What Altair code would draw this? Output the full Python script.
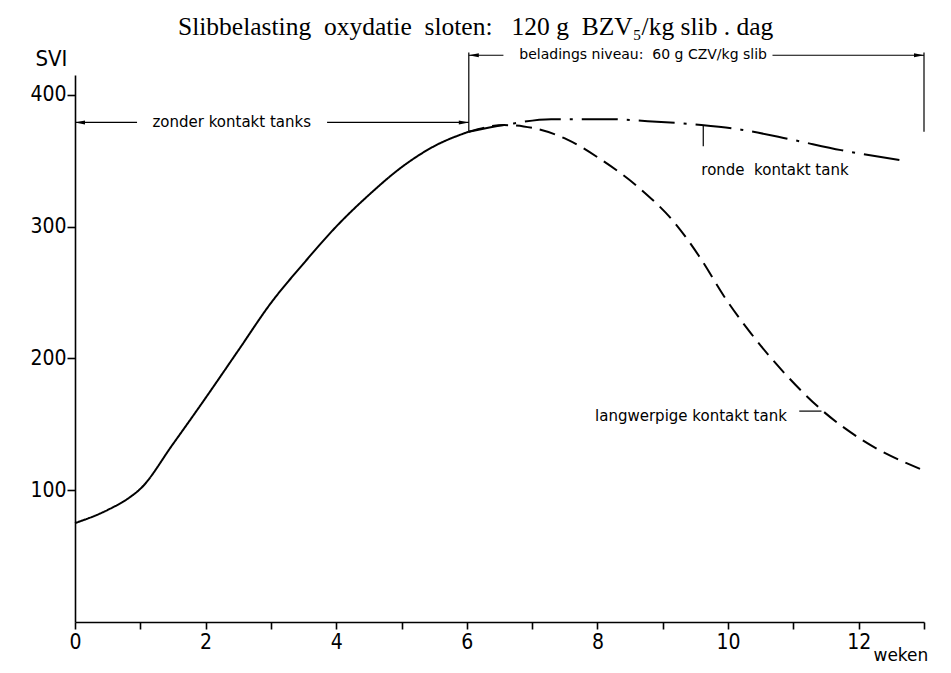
import altair as alt
import pandas as pd

# --- curves (weken, SVI) ---
solid_weeks = [0, 0.5, 0.85, 1.0, 1.5, 2.0, 2.5, 3.0, 3.5, 4.0, 4.5, 5.0, 5.5, 6.03]
solid_svi = [75, 85, 95, 101, 135, 170, 206, 242, 272, 300, 324, 345, 361, 372]

ronde_weeks = [6.03, 6.57, 7.29, 8.15, 8.77, 9.59, 10.2, 10.97, 11.73, 12.68]
ronde_svi = [372, 377, 381.5, 381.5, 380, 377, 373.5, 366, 358, 350]

lang_weeks = [6.03, 6.57, 6.87, 7.54, 8.05, 8.67, 9.18, 9.59, 9.94, 10.35, 10.86, 11.43, 12.04, 12.96]
lang_svi = [372, 377, 376, 366, 351, 328, 303, 275, 247, 219, 189, 161, 138.5, 115.7]

# --- dimension lines / annotations ---
dim_x1 = [0.0, 3.86, 6.03, 10.68]
dim_x2 = [0.95, 6.03, 6.56, 13.0]
dim_y = [379, 379, 430, 430]

vline_x = [6.03, 13.0, 9.62]
vline_y1 = [372, 372, 361]
vline_y2 = [432, 432, 377]

leader_x1 = [11.09]
leader_x2 = [11.43]
leader_y = [160]

arrow_left_x = [0.0, 6.03]
arrow_left_y = [379, 430]
arrow_right_x = [6.03, 13.0]
arrow_right_y = [379, 430]

NB = "\u00a0"
label_text = ["zonder kontakt tanks", "beladings niveau:" + NB + " 60 g CZV/kg slib",
              "ronde" + NB + " kontakt tank", "langwerpige kontakt tank"]
label_x = [2.40, 8.70, 9.59, 10.90]
label_y = [379, 430, 343, 156]
label_align = ["center", "center", "left", "right"]
label_size = [15, 14, 15, 15]

x_ticks = list(range(0, 14))
y_ticks = [100, 200, 300, 400]

title_text = ("Slibbelasting" + NB + " oxydatie" + NB + " sloten:" + NB + NB + " 120 g" + NB +
              " BZV\u2085/kg slib . dag")

NARROW = "Liberation Sans Narrow, DejaVu Sans Condensed, Arial Narrow, sans-serif"
SANS = "DejaVu Sans, Verdana, sans-serif"

xs = alt.Scale(domain=[0, 13], nice=False, zero=False)
ys = alt.Scale(domain=[0, 415], nice=False)

curves = pd.DataFrame({
    "w": solid_weeks + ronde_weeks + lang_weeks,
    "v": solid_svi + ronde_svi + lang_svi,
    "s": ["zonder"] * len(solid_weeks) + ["ronde"] * len(ronde_weeks) + ["lang"] * len(lang_weeks),
})

xaxis = alt.Axis(values=x_ticks, format="d",
                 labelExpr="datum.value % 2 == 0 && datum.value < 13 ? datum.label : ''",
                 title="weken", grid=False, domainColor="black", tickColor="black",
                 domainWidth=1.6, tickWidth=1.6, tickSize=7, labelPadding=2,
                 labelFont=NARROW, labelFontSize=21, labelColor="black", labelFlush=False,
                 titleFont=SANS, titleFontSize=17, titleFontWeight="normal", titleColor="black",
                 titleAlign="left", titleBaseline="alphabetic", titleX=798, titleY=38, titleAnchor="start")
yaxis = alt.Axis(values=y_ticks, format="d", title="SVI", grid=False, domainColor="black", tickColor="black",
                 domainWidth=1.6, tickWidth=1.6, tickSize=8, labelPadding=1,
                 labelFont=NARROW, labelFontSize=21, labelColor="black",
                 titleFont=NARROW, titleFontSize=22, titleFontWeight="normal", titleColor="black",
                 titleAngle=0, titleAlign="left", titleBaseline="alphabetic", titleX=-40, titleY=-10)

base_lines = alt.Chart(curves).mark_line(color="black", strokeWidth=2, interpolate="monotone").encode(
    x=alt.X("w:Q", scale=xs, axis=xaxis),
    y=alt.Y("v:Q", scale=ys, axis=yaxis),
    detail="s:N",
    strokeDash=alt.StrokeDash("s:N", scale=alt.Scale(domain=["zonder", "ronde", "lang"],
                                                     range=[[1, 0], [36, 9, 3, 9], [16, 8]]), legend=None),
)

dims = alt.Chart(pd.DataFrame({"x1": dim_x1, "x2": dim_x2, "y": dim_y})).mark_rule(
    color="black", strokeWidth=1.2).encode(x=alt.X("x1:Q", scale=xs), x2="x2:Q", y=alt.Y("y:Q", scale=ys))

vlines = alt.Chart(pd.DataFrame({"x": vline_x, "y1": vline_y1, "y2": vline_y2})).mark_rule(
    color="black", strokeWidth=1.2).encode(x=alt.X("x:Q", scale=xs), y=alt.Y("y1:Q", scale=ys), y2="y2:Q")

leader = alt.Chart(pd.DataFrame({"x1": leader_x1, "x2": leader_x2, "y": leader_y})).mark_rule(
    color="black", strokeWidth=1.2).encode(x=alt.X("x1:Q", scale=xs), x2="x2:Q", y=alt.Y("y:Q", scale=ys))

arr_l = alt.Chart(pd.DataFrame({"x": arrow_left_x, "y": arrow_left_y})).mark_point(
    shape="M0,0L2,-0.4L2,0.4Z", filled=True, color="black", opacity=1, size=100).encode(
    x=alt.X("x:Q", scale=xs), y=alt.Y("y:Q", scale=ys))
arr_r = alt.Chart(pd.DataFrame({"x": arrow_right_x, "y": arrow_right_y})).mark_point(
    shape="M0,0L-2,-0.4L-2,0.4Z", filled=True, color="black", opacity=1, size=100).encode(
    x=alt.X("x:Q", scale=xs), y=alt.Y("y:Q", scale=ys))

lab_df = pd.DataFrame({"t": label_text, "x": label_x, "y": label_y})
texts = []
for i in range(len(label_text)):
    texts.append(alt.Chart(lab_df.iloc[[i]]).mark_text(
        align=label_align[i], baseline="middle", font=SANS, fontSize=label_size[i], color="black").encode(
        x=alt.X("x:Q", scale=xs), y=alt.Y("y:Q", scale=ys), text="t:N"))

chart = alt.layer(base_lines, dims, vlines, leader, arr_l, arr_r, *texts).properties(
    width=849, height=547,
    autosize=alt.AutoSizeParams(type="none"),
    padding={"left": 67, "top": 67, "right": 19, "bottom": 43},
    background="white",
    title=alt.TitleParams(text=title_text,
                          font="Liberation Serif, Times New Roman, serif", fontSize=25.5,
                          fontWeight="normal", color="black", anchor="start", frame="group",
                          dx=103, offset=-13, baseline="alphabetic"),
).configure_view(stroke=None)

chart.save("out.html", embed_options={"renderer": "svg", "actions": False})
